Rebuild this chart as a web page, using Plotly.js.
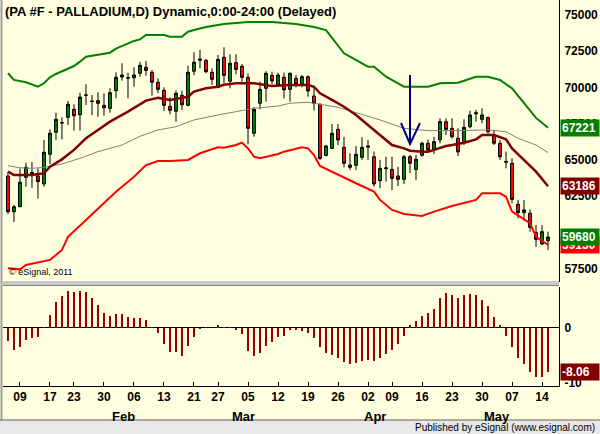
<!DOCTYPE html>
<html><head><meta charset="utf-8">
<script src="https://cdn.plot.ly/plotly-3.0.1.min.js"></script>
<style>html,body{margin:0;padding:0;background:#fff}#chart{width:600px;height:434px}</style>
</head><body><div id="chart"></div>
<script>
// ---- trading days (2012) ----
const dates = [
'2012-01-05','2012-01-06','2012-01-09','2012-01-10','2012-01-11','2012-01-12','2012-01-13','2012-01-17','2012-01-18','2012-01-19','2012-01-20','2012-01-23','2012-01-24','2012-01-25','2012-01-26','2012-01-27','2012-01-30','2012-01-31',
'2012-02-01','2012-02-02','2012-02-03','2012-02-06','2012-02-07','2012-02-08','2012-02-09','2012-02-10','2012-02-13','2012-02-14','2012-02-15','2012-02-16','2012-02-17','2012-02-21','2012-02-22','2012-02-23','2012-02-24','2012-02-27','2012-02-28','2012-02-29',
'2012-03-01','2012-03-02','2012-03-05','2012-03-06','2012-03-07','2012-03-08','2012-03-09','2012-03-12','2012-03-13','2012-03-14','2012-03-15','2012-03-16','2012-03-19','2012-03-20','2012-03-21','2012-03-22','2012-03-23','2012-03-26','2012-03-27','2012-03-28','2012-03-29','2012-03-30',
'2012-04-02','2012-04-03','2012-04-04','2012-04-05','2012-04-09','2012-04-10','2012-04-11','2012-04-12','2012-04-13','2012-04-16','2012-04-17','2012-04-18','2012-04-19','2012-04-20','2012-04-23','2012-04-24','2012-04-25','2012-04-26','2012-04-27','2012-04-30',
'2012-05-01','2012-05-02','2012-05-03','2012-05-04','2012-05-07','2012-05-08','2012-05-09','2012-05-10','2012-05-11','2012-05-14','2012-05-15'];

// ---- OHLC ----
const open = [63890,61430,61770,63800,64060,63890,63340,65390,66910,67580,67940,68490,68120,69460,69070,69090,68770,68560,
69780,70720,70680,70670,70980,71390,71050,70360,69800,68700,68360,69460,68770,71120,71880,71870,71050,70010,72080,70430,
71710,71460,70700,66840,68910,69940,70840,70170,70700,69870,70630,70150,70740,69410,68840,65310,65800,67110,65870,64650,64630,65180,
65880,65220,63570,64390,64350,63890,63660,65220,64350,65320,66150,65730,66380,67640,67180,66490,66190,67290,68180,67800,
67940,66720,66150,64900,64770,61940,61360,61320,59980,59200,59430];
const high = [64170,61890,64420,64810,64860,64420,66380,67110,68260,67940,69070,68840,69640,70220,69480,69670,69600,69940,
71050,71670,71020,71390,71760,71830,71210,70630,70010,69320,69800,69780,71500,72430,72590,71960,71320,72240,72770,72290,
72290,71620,70980,68650,70400,71120,71090,71020,71020,71020,70860,70860,70830,70050,68900,66030,67480,67480,66600,65460,65960,66560,
66380,65570,65000,65220,65220,64530,65340,65340,65340,66260,66420,66600,67870,67870,67870,67180,67800,68400,68450,68560,
67960,67070,66380,65570,65110,62240,62240,61590,60510,60510,60050];
const low = [61270,60720,61750,63150,63080,62330,63150,64720,66380,66420,67410,67020,67020,68790,68100,67980,68050,68260,
69250,70470,69250,70050,70740,70810,69430,69600,68380,68150,67640,68450,68700,70840,71320,70980,70170,69950,70290,69940,
70910,70400,66080,66600,68490,69020,70220,70100,69250,69020,70010,70010,69360,68400,65000,65240,65750,66030,64490,64310,64310,65000,
65000,63150,63040,63500,62930,63200,63340,64080,63620,65220,65570,65410,66150,66720,66490,65270,66030,67180,67640,67530,
66720,66030,65000,64420,62010,60970,60810,60050,59010,59130,58790];
const close = [61430,61770,63460,64490,64130,63500,65530,66840,67800,67550,68840,68050,69340,69480,69030,68910,68600,69640,
70700,70860,70650,70860,71530,71180,70360,69870,68770,68420,69600,68810,71050,71740,71950,71090,70560,71940,70840,71670,
71250,70700,67180,68490,69870,70980,70450,70860,69830,70980,70240,70740,69760,68910,65100,65960,66840,66380,64770,64490,65390,65870,
65950,63340,64420,64450,63730,63660,65220,64770,65040,66150,65690,66260,67640,67110,66600,65550,67250,68100,68250,68100,
66950,66150,65220,64850,62280,61360,61550,60350,59520,60050,59680];

// ---- indicator lines (read at bar positions) ----
const upperAt  = [0,1,3,5,6,7,8,10,11,12,13,15,17,18,19,20,21,22,23,26,27,29,30,31,33,36,40,44,48,51,53,56,58,60,61,63,65,66,70,72,75,78,80,82,84,86,88,90];
const upperVal = [70980,70520,70360,70050,70290,70700,70930,71300,71480,71780,72120,72260,72400,72680,72860,73050,73210,73320,73620,73620,73500,73500,73850,73970,74170,74380,74520,74520,74380,74170,73960,72360,71900,71430,71430,70740,70290,70050,70050,70290,70330,70740,70740,70520,69940,68910,67900,67221];
const maAt  = [0,1,4,6,7,9,11,13,15,17,20,22,23,25,26,27,30,31,33,35,36,38,41,44,47,50,51,52,54,56,58,60,62,64,66,67,69,70,71,73,74,76,78,79,81,83,84,86,88,90];
const maVal = [64190,63960,63960,64080,64530,65040,65690,66490,67070,67640,68330,68830,69090,69290,69200,69140,69360,69710,69940,70050,70190,70290,70290,70100,70170,70170,70050,69600,69140,68670,68100,67410,66720,66030,65800,65640,65570,65570,65690,65960,66030,66190,66420,66720,66720,66420,65800,65000,64190,63186];
const slowAt  = [0,2,4,6,9,12,15,19,22,25,28,31,35,38,41,45,47,50,51,55,58,62,66,68,70,75,80,83,85,88,90];
const slowVal = [64600,64460,64420,64490,64720,65110,65570,66030,66630,67070,67290,67760,68100,68330,68560,68720,68910,68980,68910,68630,68260,67760,67180,67110,67020,67020,67070,66950,66490,66030,65500];
const lowerAt  = [0,2,3,5,7,9,10,13,15,18,21,23,25,27,30,32,35,36,38,39,40,41,42,45,46,49,50,51,52,55,58,61,62,64,66,69,71,74,76,78,79,82,83,84,87,88,90];
const lowerVal = [57520,57450,57750,57910,58100,58790,59700,60860,61660,62810,63840,64650,64930,64930,65000,65460,65870,65840,66030,66190,65800,65220,65110,65410,65570,65870,65800,65340,64580,63960,63390,62810,62240,61550,61270,61130,61430,61820,62010,62240,62700,62700,62460,61430,60630,59700,59150];

// ---- oscillator histogram ----
const osc = [-2.42,-4.06,-3.52,-2.24,-1.88,-1.70,0.18,2.42,4.67,5.76,6.79,6.48,6.79,6.60,5.50,4.24,2.79,2.24,2.48,2.60,2.06,1.88,1.88,1.52,0.24,-0.97,-2.97,-4.42,-4.42,-5.03,-3.33,-1.70,-0.24,0.24,-0.06,0.60,0.24,0.24,-0.42,-1.15,
-4.24,-5.15,-4.60,-3.33,-2.60,-1.64,-1.52,-0.42,-0.30,-0.5,-1.0,-1.8,-3.5,-4.5,-5.0,-5.5,-6.2,-6.5,-6.3,-6.0,-5.8,-6.0,-5.5,-4.8,-4.0,-3.0,-1.5,0.5,1.2,2.2,
2.8,3.5,5.5,6.3,6.0,5.5,6.0,6.2,6.0,5.0,4.0,2.0,0.5,-1.5,-3.5,-5.5,-6.5,-8.0,-9.0,-9.0,-8.06];

// ---- labels ----
const tickAt = [2,7,11,16,21,26,31,35,40,45,50,55,60,64,69,74,79,84,89];
const tickText = ['09','17','23','30','06','13','21','27','05','12','19','26','02','09','16','23','30','07','14'];
const monthNames = ['Feb','Mar','Apr','May'];
const monthStart = [18,38,60,80];
const priceTicks = [57500,62500,65000,67500,70000,72500,75000];
const oscTicks = [0,-10];
const titleText = '(PA #F - PALLADIUM,D) Dynamic,0:00-24:00 (Delayed)';
const arrowBar = 67;

const W=600,H=434;
const px = x => x/W, py = y => 1 - y/H;
const FONT = 'Liberation Sans, Arial, sans-serif';
const at = idx => idx.map(i => dates[i]);

const traces = [
  {type:'candlestick',x:dates,open:open,high:high,low:low,close:close,xaxis:'x',yaxis:'y',whiskerwidth:0,
   increasing:{line:{color:'#000000',width:1},fillcolor:'#008000'},
   decreasing:{line:{color:'#000000',width:1},fillcolor:'#ff0000'},hoverinfo:'skip'},
  {type:'scatter',mode:'lines',x:at(slowAt),y:slowVal,line:{color:'#808080',width:1},hoverinfo:'skip',xaxis:'x',yaxis:'y'},
  {type:'scatter',mode:'lines',x:at(upperAt),y:upperVal,line:{color:'#008000',width:2},hoverinfo:'skip',xaxis:'x',yaxis:'y'},
  {type:'scatter',mode:'lines',x:at(lowerAt),y:lowerVal,line:{color:'#ff0000',width:2},hoverinfo:'skip',xaxis:'x',yaxis:'y'},
  {type:'scatter',mode:'lines',x:at(maAt),y:maVal,line:{color:'#800000',width:2.5},hoverinfo:'skip',xaxis:'x',yaxis:'y'},
  {type:'bar',x:dates,y:osc,xaxis:'x',yaxis:'y2',marker:{color:'#990000'},width:0.38,hoverinfo:'skip'}
];

const annotations = [
  {xref:'paper',yref:'paper',x:px(3),y:py(2),xanchor:'left',yanchor:'top',text:titleText,showarrow:false,
   font:{family:FONT,size:13,color:'#000',weight:'bold'}},
  {xref:'paper',yref:'paper',x:px(7),y:py(272),xanchor:'left',yanchor:'middle',text:'© eSignal, 2011',showarrow:false,
   font:{family:FONT,size:9,color:'#000'}},
  {xref:'paper',yref:'paper',x:px(597),y:py(427),xanchor:'right',yanchor:'middle',text:'Published by eSignal (www.esignal.com)',showarrow:false,
   font:{family:FONT,size:10,color:'#000'}}
];
monthNames.forEach((m,k)=>annotations.push({xref:'x',yref:'paper',x:dates[monthStart[k]],xshift:-6,y:py(416),xanchor:'left',yanchor:'middle',
  text:m,showarrow:false,font:{family:FONT,size:13,color:'#000',weight:'bold'}}));
const box = (yref,val,txt,bg)=>({xref:'paper',yref:yref,x:px(560),y:val,xanchor:'left',yanchor:'middle',text:txt,showarrow:false,
  bgcolor:bg,borderpad:1,width:36,align:'left',font:{family:FONT,size:12,color:'#ffffff',weight:'bold'}});
annotations.push(box('y',lowerVal[lowerVal.length-1],String(lowerVal[lowerVal.length-1]),'#ff0000'));
annotations.push(box('y',close[close.length-1],String(close[close.length-1]),'#008000'));
annotations.push(box('y',maVal[maVal.length-1],String(maVal[maVal.length-1]),'#800000'));
annotations.push(box('y',upperVal[upperVal.length-1],String(upperVal[upperVal.length-1]),'#008000'));
annotations.push(box('y2',osc[osc.length-1],osc[osc.length-1].toFixed(2),'#800000'));

const shapes = [
  {type:'rect',xref:'paper',yref:'paper',x0:px(3),x1:px(559),y0:py(281),y1:py(286),fillcolor:'#c8c8c8',line:{width:0},layer:'above'},
  {type:'line',xref:'paper',yref:'paper',x0:px(3),x1:px(559),y0:py(285.5),y1:py(285.5),line:{color:'#808080',width:1},layer:'above'},
  {type:'line',xref:'paper',yref:'paper',x0:px(1.5),x1:px(1.5),y0:py(0),y1:py(420),line:{color:'#a0a0a0',width:2}},
  {type:'rect',xref:'paper',yref:'paper',x0:0,x1:1,y0:0,y1:py(420),fillcolor:'#e8e8e8',line:{width:0}},
  {type:'line',xref:'paper',yref:'paper',x0:0,x1:1,y0:py(420),y1:py(420),line:{color:'#606060',width:1}},
  {type:'line',xref:'x',yref:'paper',x0:dates[arrowBar],x1:dates[arrowBar],y0:py(75),y1:py(144),line:{color:'#000080',width:2}},
  {type:'path',xref:'x',yref:'paper',xsizemode:'pixel',xanchor:dates[arrowBar],
   path:'M -9 '+py(123)+' L 0 '+py(144)+' L 10 '+py(123),line:{color:'#000080',width:2}}
];

const layout = {
  width:W,height:H,margin:{l:0,r:0,t:0,b:0},
  paper_bgcolor:'#ffffe0',plot_bgcolor:'#ffffe0',showlegend:false,bargap:0,
  font:{family:FONT,color:'#000'},
  xaxis:{type:'category',categoryorder:'array',categoryarray:dates,range:[-0.83,91.83],domain:[px(3),px(559)],anchor:'y2',
    tickvals:at(tickAt),ticktext:tickText,ticks:'inside',ticklen:4,tickcolor:'#000',
    tickfont:{family:FONT,size:12,color:'#000',weight:'bold'},showgrid:false,zeroline:false,
    showline:true,linecolor:'#000',linewidth:1,rangeslider:{visible:false},fixedrange:true},
  yaxis:{domain:[py(282),py(0)],range:[56577,76035],side:'right',anchor:'x',tickvals:priceTicks,ticktext:priceTicks.map(String),
    tickfont:{family:FONT,size:12,color:'#000',weight:'bold'},showgrid:false,zeroline:false,
    showline:true,linecolor:'#000',linewidth:1,ticks:'',ticklabelstandoff:2,fixedrange:true},
  yaxis2:{domain:[py(386),py(287)],range:[-10.55,7.45],side:'right',anchor:'x',tickvals:oscTicks,ticktext:['0','-10'],
    tickfont:{family:FONT,size:12,color:'#000',weight:'bold'},showgrid:false,zeroline:true,zerolinecolor:'#000',zerolinewidth:1,
    showline:true,linecolor:'#000',linewidth:1,ticks:'',ticklabelstandoff:2,fixedrange:true},
  annotations:annotations,shapes:shapes
};
Plotly.newPlot('chart',traces,layout,{staticPlot:true,displayModeBar:false});
</script></body></html>
